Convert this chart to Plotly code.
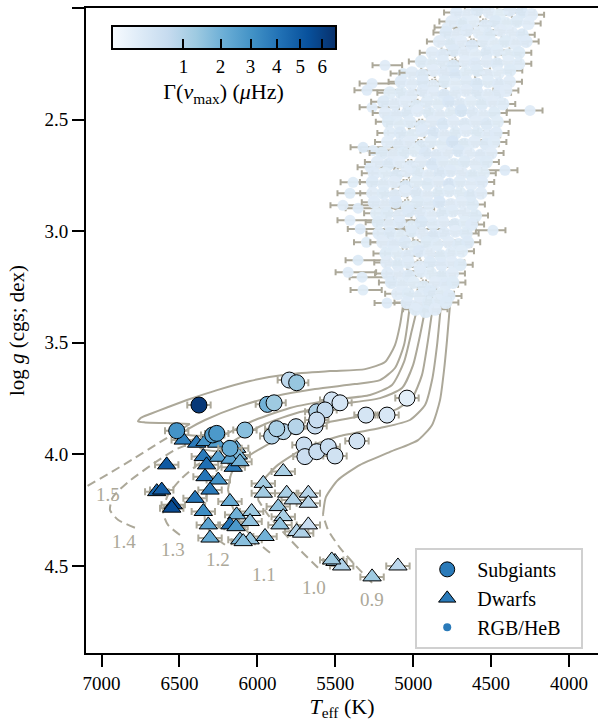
import numpy as np
import plotly.graph_objects as go

# ---------------- evolutionary tracks (Teff [K], log g) ----------------
# main-sequence part (dashed)
trk09_ms_teff = [5264, 5374, 5470, 5547, 5579]
trk09_ms_logg = [4.576, 4.495, 4.419, 4.338, 4.271]
trk10_ms_teff = [5611, 5727, 5836, 5932, 5996]
trk10_ms_logg = [4.508, 4.428, 4.347, 4.271, 4.204]
trk11_ms_teff = [5919, 6015, 6099, 6157, 6189]
trk11_ms_logg = [4.441, 4.383, 4.316, 4.240, 4.159]
trk12_ms_teff = [6208, 6291, 6336, 6336, 6317, 6270, 6200]
trk12_ms_logg = [4.405, 4.361, 4.302, 4.226, 4.151, 4.080, 4.030]
trk13_ms_teff = [6497, 6574, 6606, 6574, 6484, 6368, 6227]
trk13_ms_logg = [4.361, 4.316, 4.258, 4.182, 4.106, 4.039, 3.989]
trk14_ms_teff = [6786, 6895, 6946, 6927, 6830, 6689, 6529, 6368, 6291]
trk14_ms_logg = [4.329, 4.293, 4.249, 4.191, 4.124, 4.052, 3.980, 3.936, 3.918]
trk15_ms_teff = [7160, 7100, 6946, 6786, 6625, 6497, 6433]
trk15_ms_logg = [4.18, 4.146, 4.083, 4.016, 3.945, 3.891, 3.864]

# post-main-sequence part (solid)
trk09_post_teff = [5579, 5560, 5483, 5341, 5149, 4969, 4879, 4828, 4802, 4783, 4764]
trk09_post_logg = [4.271, 4.191, 4.115, 4.047, 3.989, 3.936, 3.868, 3.757, 3.622, 3.488, 3.331]
trk10_post_teff = [5996, 5970, 5868, 5694, 5470, 5213, 5021, 4924, 4879, 4847, 4822]
trk10_post_logg = [4.204, 4.124, 4.047, 3.971, 3.918, 3.882, 3.846, 3.779, 3.667, 3.510, 3.331]
trk11_post_teff = [6189, 6163, 6047, 5855, 5598, 5341, 5117, 5008, 4944, 4905, 4873]
trk11_post_logg = [4.159, 4.079, 4.003, 3.927, 3.864, 3.829, 3.801, 3.748, 3.645, 3.488, 3.331]
trk12_post_teff = [6200, 6260, 6240, 6144, 5951, 5727, 5470, 5213, 5072, 5001, 4956, 4918]
trk12_post_logg = [4.030, 4.010, 3.985, 3.936, 3.864, 3.810, 3.775, 3.748, 3.703, 3.600, 3.466, 3.331]
trk13_post_teff = [6227, 6336, 6368, 6304, 6176, 6015, 5791, 5534, 5277, 5136, 5059, 5008, 4969]
trk13_post_logg = [3.989, 3.980, 3.971, 3.945, 3.900, 3.846, 3.792, 3.757, 3.734, 3.689, 3.586, 3.443, 3.331]
trk14_post_teff = [6291, 6433, 6484, 6446, 6336, 6112, 5887, 5630, 5374, 5213, 5117, 5059, 5021]
trk14_post_logg = [3.918, 3.914, 3.905, 3.887, 3.846, 3.784, 3.739, 3.707, 3.685, 3.667, 3.613, 3.510, 3.331]
trk15_post_teff = [6433, 6593, 6721, 6766, 6747, 6689, 6580, 6433, 6259, 6047, 5791, 5534, 5309,
                   5181, 5117, 5085, 5065]
trk15_post_logg = [3.864, 3.860, 3.857, 3.852, 3.836, 3.819, 3.790, 3.752, 3.712, 3.671, 3.640,
                   3.627, 3.618, 3.586, 3.510, 3.421, 3.331]

track_labels = ["0.9", "1.0", "1.1", "1.2", "1.3", "1.4", "1.5"]
track_label_teff = [5264, 5637, 5958, 6253, 6542, 6856, 6959]
track_label_logg = [4.652, 4.598, 4.539, 4.472, 4.428, 4.392, 4.182]

# ---------------- subgiants ----------------
sg_teff = [5795, 5748, 6375, 5936, 5893, 5523, 5470, 5619, 5566, 6518, 6287, 6261, 6080,
           5908, 5834, 5752, 5630, 5619, 6176, 5701, 5695, 5619, 5545, 5502, 5876,
           5303, 5168, 5040, 5361]
sg_logg = [3.667, 3.679, 3.779, 3.776, 3.769, 3.756, 3.769, 3.809, 3.801, 3.894, 3.913, 3.906, 3.891,
           3.918, 3.898, 3.876, 3.873, 3.846, 3.973, 3.958, 4.010, 3.988, 3.966, 4.007, 3.885,
           3.824, 3.824, 3.748, 3.940]
sg_gamma = [0.8, 1.4, 6.3, 2.0, 1.3, 0.4, 0.35, 1.0, 0.7, 3.0, 2.6, 2.8, 1.6,
            1.0, 0.9, 0.9, 0.6, 0.6, 2.2, 0.6, 0.55, 0.6, 0.6, 0.45, 1.1,
            0.35, 0.3, 0.15, 0.4]

# ---------------- dwarfs ----------------
dw_teff = [6476, 6390, 6336, 6261, 6133, 6123, 6347, 6251, 6582, 6326, 6155, 6176, 6112,
           6336, 6251, 6304, 6646, 6614, 6540, 6550, 6400, 6347, 6315, 6304, 6176, 6133,
           6176, 6137, 6112, 6047, 6037, 6047, 5951, 5962, 5962, 5834, 5812, 5770, 5866,
           5834, 5855, 5748, 5716, 5673, 5673, 5673, 6091, 5502, 5459, 5523, 5264, 5098]
dw_logg = [3.936, 3.950, 3.943, 3.950, 3.973, 4.003, 4.010, 4.013, 4.047, 4.047, 4.058, 4.022, 4.033,
           4.100, 4.115, 4.160, 4.167, 4.160, 4.226, 4.241, 4.197, 4.256, 4.316, 4.375, 4.211, 4.271,
           4.316, 4.324, 4.383, 4.383, 4.256, 4.301, 4.368, 4.130, 4.174, 4.077, 4.174, 4.204, 4.234,
           4.279, 4.316, 4.346, 4.353, 4.174, 4.219, 4.316, 4.391, 4.480, 4.500, 4.473, 4.549, 4.500]
dw_gamma = [3.6, 3.8, 3.0, 2.6, 2.0, 1.8, 3.8, 2.5, 5.0, 4.2, 3.8, 2.4, 2.0,
            4.0, 3.0, 3.8, 4.5, 4.8, 5.8, 5.5, 4.0, 3.2, 2.4, 2.2, 2.2, 2.0,
            4.0, 2.8, 1.8, 1.4, 1.3, 1.5, 2.0, 1.2, 1.2, 1.1, 1.1, 1.0, 1.5,
            1.1, 1.5, 1.0, 1.0, 0.9, 0.9, 0.6, 1.6, 1.4, 1.0, 1.3, 1.3, 0.8]
MS_TEFF_ERR = 75  # typical Teff uncertainty of dwarfs/subgiants (K)

# ---------------- RGB / HeB cloud ----------------
rgb_teff = [
    4722, 4650, 4588, 4512, 4447, 4380, 4302, 4240,
    4752, 4683, 4615, 4538, 4472, 4405, 4333, 4262,
    4790, 4718, 4655, 4578, 4512, 4441, 4368, 4300,
    4832, 4758, 4692, 4622, 4548, 4483, 4410, 4345, 4275,
    4878, 4812, 4738, 4672, 4602, 4528, 4462, 4391, 4322,
    4948, 4882, 4808, 4742, 4668, 4603, 4528, 4462, 4388, 4322,
    5008, 4942, 4868, 4802, 4728, 4662, 4588, 4522, 4452, 4380,
    5078, 5012, 4938, 4872, 4798, 4732, 4658, 4592, 4518, 4452, 4382,
    5150, 5078, 5012, 4938, 4872, 4802, 4728, 4662, 4588, 4522, 4452, 4405,
    5190, 5118, 5052, 4978, 4912, 4838, 4772, 4698, 4632, 4558, 4492, 4425,
    5180, 5112, 5038, 4972, 4898, 4832, 4758, 4692, 4618, 4552, 4480,
    5160, 5088, 5022, 4948, 4882, 4808, 4742, 4668, 4602, 4528, 4460,
    5150, 5082, 5008, 4942, 4868, 4802, 4728, 4662, 4588, 4522, 4468,
    5165, 5092, 5028, 4952, 4888, 4812, 4748, 4672, 4608, 4532, 4482,
    5200, 5128, 5062, 4988, 4922, 4848, 4782, 4708, 4642, 4568, 4500,
    5230, 5158, 5092, 5018, 4952, 4878, 4812, 4738, 4672, 4598, 4530,
    5250, 5182, 5108, 5042, 4968, 4902, 4828, 4762, 4688, 4622, 4550,
    5262, 5188, 5122, 5048, 4982, 4908, 4842, 4768, 4702, 4628, 4560,
    5260, 5192, 5118, 5052, 4978, 4912, 4838, 4772, 4698, 4632, 4566,
    5250, 5178, 5112, 5038, 4972, 4898, 4832, 4758, 4692, 4620,
    5235, 5168, 5092, 5028, 4952, 4888, 4812, 4748, 4672, 4600,
    5225, 5152, 5088, 5012, 4948, 4872, 4808, 4732, 4668, 4625,
    5220, 5148, 5082, 5008, 4942, 4868, 4802, 4728, 4660,
    5195, 5128, 5052, 4988, 4912, 4848, 4772, 4708, 4650,
    5175, 5102, 5038, 4962, 4898, 4822, 4758, 4690,
    5170, 5098, 5032, 4958, 4892, 4818, 4752, 4698,
    5165, 5092, 5028, 4952, 4888, 4812, 4748,
    5140, 5072, 4998, 4932, 4858, 4792, 4745,
    5100, 5032, 4958, 4892, 4818, 4770,
    5040, 4972, 4902, 4838, 4790,
    4985, 4920, 4860,
]
rgb_logg = [
    2.02, 2.03, 2.01, 2.02, 2.03, 2.01, 2.02, 2.03,
    2.06, 2.07, 2.06, 2.08, 2.06, 2.07, 2.06, 2.07,
    2.11, 2.12, 2.10, 2.11, 2.12, 2.10, 2.11, 2.12,
    2.15, 2.16, 2.15, 2.17, 2.15, 2.16, 2.15, 2.16, 2.15,
    2.20, 2.21, 2.19, 2.20, 2.21, 2.20, 2.19, 2.21, 2.20,
    2.24, 2.25, 2.24, 2.26, 2.24, 2.25, 2.24, 2.25, 2.24, 2.25,
    2.29, 2.30, 2.28, 2.29, 2.30, 2.29, 2.28, 2.30, 2.29, 2.28,
    2.33, 2.34, 2.33, 2.35, 2.33, 2.34, 2.33, 2.34, 2.33, 2.34, 2.33,
    2.38, 2.38, 2.39, 2.37, 2.38, 2.39, 2.38, 2.37, 2.38, 2.39, 2.38, 2.37,
    2.42, 2.43, 2.42, 2.44, 2.42, 2.43, 2.42, 2.43, 2.42, 2.43, 2.42, 2.43,
    2.47, 2.48, 2.47, 2.46, 2.47, 2.48, 2.47, 2.46, 2.47, 2.48, 2.47,
    2.51, 2.52, 2.51, 2.53, 2.51, 2.52, 2.51, 2.52, 2.51, 2.52, 2.51,
    2.56, 2.56, 2.57, 2.55, 2.56, 2.57, 2.56, 2.55, 2.56, 2.57, 2.56,
    2.60, 2.61, 2.60, 2.62, 2.60, 2.61, 2.60, 2.61, 2.60, 2.61, 2.60,
    2.65, 2.66, 2.65, 2.64, 2.65, 2.66, 2.65, 2.64, 2.65, 2.66, 2.65,
    2.69, 2.70, 2.69, 2.71, 2.69, 2.70, 2.69, 2.70, 2.69, 2.70, 2.69,
    2.74, 2.74, 2.75, 2.73, 2.74, 2.75, 2.74, 2.73, 2.74, 2.75, 2.74,
    2.78, 2.79, 2.78, 2.80, 2.78, 2.79, 2.78, 2.79, 2.78, 2.79, 2.78,
    2.83, 2.83, 2.84, 2.82, 2.83, 2.84, 2.83, 2.82, 2.83, 2.84, 2.83,
    2.87, 2.88, 2.87, 2.89, 2.87, 2.88, 2.87, 2.88, 2.87, 2.88,
    2.92, 2.92, 2.93, 2.91, 2.92, 2.93, 2.92, 2.91, 2.92, 2.93,
    2.96, 2.97, 2.96, 2.98, 2.96, 2.97, 2.96, 2.97, 2.96, 2.97,
    3.01, 3.01, 3.02, 3.00, 3.01, 3.02, 3.01, 3.00, 3.01,
    3.05, 3.06, 3.05, 3.07, 3.05, 3.06, 3.05, 3.06, 3.05,
    3.10, 3.10, 3.11, 3.09, 3.10, 3.11, 3.10, 3.09,
    3.14, 3.15, 3.14, 3.16, 3.14, 3.15, 3.14, 3.15,
    3.19, 3.19, 3.20, 3.18, 3.19, 3.20, 3.19,
    3.23, 3.24, 3.23, 3.25, 3.23, 3.24, 3.23,
    3.28, 3.28, 3.29, 3.27, 3.28, 3.29,
    3.32, 3.33, 3.32, 3.31, 3.32,
    3.35, 3.36, 3.35,
]
rgb_gamma = [
    0.22, 0.18, 0.25, 0.2, 0.15, 0.22, 0.28, 0.2,
    0.2, 0.24, 0.17, 0.22, 0.26, 0.19, 0.23, 0.18,
    0.25, 0.2, 0.22, 0.16, 0.24, 0.2, 0.18, 0.26,
    0.2, 0.23, 0.18, 0.27, 0.21, 0.17, 0.24, 0.2, 0.22,
    0.18, 0.22, 0.26, 0.2, 0.17, 0.25, 0.21, 0.19, 0.24,
    0.23, 0.19, 0.21, 0.28, 0.18, 0.22, 0.2, 0.25, 0.17, 0.21,
    0.2, 0.25, 0.18, 0.22, 0.3, 0.19, 0.23, 0.2, 0.17, 0.24,
    0.22, 0.18, 0.26, 0.2, 0.23, 0.17, 0.21, 0.28, 0.19, 0.22, 0.2,
    0.19, 0.24, 0.2, 0.22, 0.18, 0.27, 0.21, 0.2, 0.25, 0.18, 0.22, 0.2,
    0.25, 0.2, 0.18, 0.23, 0.21, 0.19, 0.3, 0.22, 0.17, 0.24, 0.2, 0.21,
    0.2, 0.22, 0.26, 0.18, 0.24, 0.2, 0.19, 0.33, 0.22, 0.18, 0.23,
    0.23, 0.19, 0.21, 0.25, 0.2, 0.28, 0.18, 0.22, 0.2, 0.26, 0.19,
    0.21, 0.25, 0.19, 0.22, 0.3, 0.2, 0.24, 0.18, 0.23, 0.2, 0.22,
    0.18, 0.22, 0.2, 0.26, 0.21, 0.19, 0.35, 0.23, 0.2, 0.25, 0.21,
    0.24, 0.2, 0.23, 0.19, 0.27, 0.22, 0.2, 0.28, 0.18, 0.22, 0.2,
    0.2, 0.26, 0.18, 0.22, 0.2, 0.3, 0.21, 0.19, 0.24, 0.2, 0.23,
    0.22, 0.19, 0.25, 0.2, 0.23, 0.18, 0.27, 0.22, 0.2, 0.24, 0.19,
    0.25, 0.21, 0.2, 0.28, 0.19, 0.23, 0.2, 0.32, 0.21, 0.18, 0.22,
    0.2, 0.24, 0.22, 0.18, 0.26, 0.2, 0.23, 0.21, 0.19, 0.25, 0.2,
    0.22, 0.2, 0.27, 0.19, 0.23, 0.21, 0.3, 0.2, 0.18, 0.24,
    0.19, 0.23, 0.2, 0.25, 0.22, 0.18, 0.26, 0.21, 0.2, 0.23,
    0.24, 0.2, 0.22, 0.19, 0.28, 0.21, 0.2, 0.25, 0.19, 0.22,
    0.21, 0.25, 0.19, 0.23, 0.2, 0.27, 0.22, 0.18, 0.24,
    0.2, 0.22, 0.26, 0.19, 0.24, 0.21, 0.2, 0.23, 0.25,
    0.23, 0.19, 0.22, 0.27, 0.2, 0.24, 0.21, 0.19,
    0.2, 0.24, 0.21, 0.18, 0.25, 0.22, 0.2, 0.23,
    0.22, 0.2, 0.26, 0.21, 0.19, 0.24, 0.2,
    0.25, 0.21, 0.19, 0.23, 0.2, 0.22, 0.24,
    0.2, 0.23, 0.21, 0.25, 0.19, 0.22,
    0.22, 0.2, 0.24, 0.21, 0.23,
    0.21, 0.24, 0.2,
]
RGB_TEFF_ERR = 80  # typical Teff uncertainty in the cloud (K)

# sparse RGB stars with large / asymmetric Teff uncertainties
rgbw_teff = [5264, 5297, 5264, 5322, 5258, 5277, 5386, 5406, 5451, 5354, 5406, 5354, 5418,
             5328, 5322, 5168, 5181, 5065, 4783, 5340, 5300, 4250, 4411, 4488]
rgbw_logg = [2.338, 2.369, 2.445, 2.624, 2.638, 2.714, 2.781, 2.830, 2.884, 2.897, 2.951, 3.130, 3.184,
             3.206, 3.264, 3.322, 2.257, 2.293, 2.087, 2.990, 3.050, 2.459, 2.727, 2.996]
rgbw_err_minus = [366, 225, 173, 391, 150, 300, 366, 450, 500, 488, 430, 200, 180,
                  205, 120, 100, 110, 90, 120, 540, 300, 80, 80, 80]
rgbw_err_plus = [80, 80, 80, 80, 80, 80, 80, 80, 80, 80, 80, 80, 80,
                 80, 80, 80, 80, 80, 80, 80, 80, 150, 150, 110]
rgbw_gamma = [0.2, 0.22, 0.18, 0.25, 0.2, 0.21, 0.19, 0.23, 0.2, 0.22, 0.18, 0.24, 0.2,
              0.21, 0.19, 0.22, 0.2, 0.23, 0.2, 0.22, 0.19, 0.2, 0.22, 0.21]

x_ticks = [7000, 6500, 6000, 5500, 5000, 4500, 4000]
y_ticks = [2.0, 2.5, 3.0, 3.5, 4.0, 4.5]
cbar_ticks = [1, 2, 3, 4, 5, 6]

# ---------------- styling ----------------
GREY = "#aca899"
FONT = "Liberation Serif"
GAMMA_POW = 0.6   # power-law colour normalisation
GAMMA_MAX = 6.65
BLUES = [[0.0, "#f7fbff"], [0.125, "#deebf7"], [0.25, "#c6dbef"], [0.375, "#9ecae1"],
         [0.5, "#6baed6"], [0.625, "#4292c6"], [0.75, "#2171b5"], [0.875, "#08519c"],
         [1.0, "#08306b"]]
NBSP = "\u00a0"


def cnorm(v):
    return np.asarray(v, dtype=float) ** GAMMA_POW


fig = go.Figure()

ms_tracks = [(trk09_ms_teff, trk09_ms_logg), (trk10_ms_teff, trk10_ms_logg),
             (trk11_ms_teff, trk11_ms_logg), (trk12_ms_teff, trk12_ms_logg),
             (trk13_ms_teff, trk13_ms_logg), (trk14_ms_teff, trk14_ms_logg),
             (trk15_ms_teff, trk15_ms_logg)]
post_tracks = [(trk09_post_teff, trk09_post_logg), (trk10_post_teff, trk10_post_logg),
               (trk11_post_teff, trk11_post_logg), (trk12_post_teff, trk12_post_logg),
               (trk13_post_teff, trk13_post_logg), (trk14_post_teff, trk14_post_logg),
               (trk15_post_teff, trk15_post_logg)]

for tx, ty in ms_tracks:
    fig.add_trace(go.Scatter(x=tx, y=ty, mode="lines", showlegend=False, hoverinfo="skip",
                             line=dict(color=GREY, width=2, dash="9px,5px",
                                       shape="spline", smoothing=0.6)))
for tx, ty in post_tracks:
    fig.add_trace(go.Scatter(x=tx, y=ty, mode="lines", showlegend=False, hoverinfo="skip",
                             line=dict(color=GREY, width=2, shape="spline", smoothing=0.6)))

# RGB / HeB
fig.add_trace(go.Scatter(
    x=rgbw_teff, y=rgbw_logg, mode="markers", showlegend=False,
    marker=dict(size=11, color=cnorm(rgbw_gamma), coloraxis="coloraxis", opacity=0.95,
                line=dict(width=0)),
    error_x=dict(type="data", symmetric=False, array=rgbw_err_plus,
                 arrayminus=rgbw_err_minus, color=GREY, thickness=2, width=3)))
fig.add_trace(go.Scatter(
    x=rgb_teff, y=rgb_logg, mode="markers", showlegend=False,
    marker=dict(size=13, color=cnorm(rgb_gamma), coloraxis="coloraxis", opacity=0.95,
                line=dict(width=0)),
    error_x=dict(type="constant", value=RGB_TEFF_ERR, color=GREY, thickness=2, width=3)))

# dwarfs
fig.add_trace(go.Scatter(
    x=dw_teff, y=dw_logg, mode="markers", showlegend=False,
    marker=dict(symbol="triangle-up", size=16, color=cnorm(dw_gamma), coloraxis="coloraxis",
                line=dict(color="black", width=1)),
    error_x=dict(type="constant", value=MS_TEFF_ERR, color=GREY, thickness=2, width=3.5)))

# subgiants
fig.add_trace(go.Scatter(
    x=sg_teff, y=sg_logg, mode="markers", showlegend=False,
    marker=dict(symbol="circle", size=16, color=cnorm(sg_gamma), coloraxis="coloraxis",
                line=dict(color="black", width=1)),
    error_x=dict(type="constant", value=MS_TEFF_ERR, color=GREY, thickness=2, width=3.5)))

# legend entries
LEG_BLUE = "#2a7ab9"
fig.add_trace(go.Scatter(x=[None], y=[None], mode="markers", name="Subgiants" + NBSP * 4,
                         marker=dict(symbol="circle", size=15, color=LEG_BLUE,
                                     line=dict(color="black", width=1))))
fig.add_trace(go.Scatter(x=[None], y=[None], mode="markers", name="Dwarfs",
                         marker=dict(symbol="triangle-up", size=15, color=LEG_BLUE,
                                     line=dict(color="black", width=1))))
fig.add_trace(go.Scatter(x=[None], y=[None], mode="markers", name="RGB/HeB",
                         marker=dict(symbol="circle", size=8, color=LEG_BLUE,
                                     line=dict(width=0))))

for lab, tx, ty in zip(track_labels, track_label_teff, track_label_logg):
    fig.add_annotation(x=tx, y=ty, text=lab, showarrow=False,
                       font=dict(family=FONT, size=19, color=GREY))

cb_vals = cnorm(cbar_ticks)
fig.update_layout(
    width=598, height=726,
    margin=dict(l=86, r=0, t=8, b=73),
    paper_bgcolor="white", plot_bgcolor="white",
    font=dict(family=FONT, size=19, color="black"),
    coloraxis=dict(
        colorscale=BLUES, cmin=0, cmax=GAMMA_MAX ** GAMMA_POW,
        colorbar=dict(
            orientation="h", x=0.05, xanchor="left", len=0.438, lenmode="fraction",
            y=0.9715, yanchor="top", thickness=23, xpad=0, ypad=0,
            outlinewidth=2, outlinecolor="black",
            tickvals=list(cb_vals), ticktext=[str(t) for t in cbar_ticks],
            ticks="inside", ticklen=11, tickwidth=2, tickcolor="black",
            tickfont=dict(family=FONT, size=19),
            title=dict(text="Γ(<i>ν</i><sub>max</sub>) (<i>μ</i>Hz)", side="bottom",
                       font=dict(family=FONT, size=22)),
        ),
    ),
    legend=dict(x=0.643, y=0.163, xanchor="left", yanchor="top", itemwidth=50,
                bgcolor="white", bordercolor="#d0d0d0", borderwidth=2,
                font=dict(family=FONT, size=20)),
)

fig.update_xaxes(
    range=[7100, 3814], showline=True, linecolor="black", linewidth=2, mirror=True,
    ticks="outside", ticklen=12, tickwidth=2, tickcolor="black",
    tickvals=x_ticks, ticktext=[str(t) for t in x_ticks],
    showgrid=False, zeroline=False,
    title=dict(text="<i>T</i><sub>eff</sub> (K)", standoff=5, font=dict(size=22)),
)
fig.update_yaxes(
    range=[4.89, 2.0], showline=True, linecolor="black", linewidth=2, mirror=False,
    ticks="outside", ticklen=12, tickwidth=2, tickcolor="black",
    tickvals=y_ticks, ticktext=[f"{t:.1f}" for t in y_ticks],
    showgrid=False, zeroline=False,
    title=dict(text="log <i>g</i> (cgs; dex)", standoff=14, font=dict(size=21)),
)

fig.write_html("out.html")
